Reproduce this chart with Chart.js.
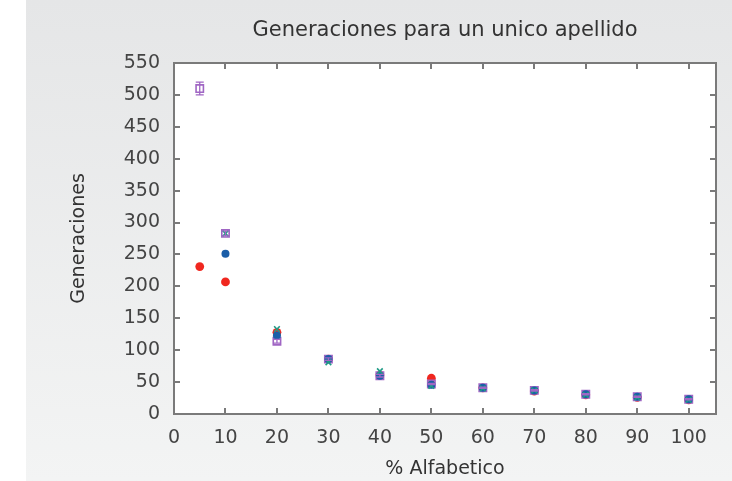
<!DOCTYPE html>
<html>
<head>
<meta charset="utf-8">
<script src="https://cdn.jsdelivr.net/npm/chart.js@4"></script>
<style>
  html, body { margin: 0; padding: 0; background: #fff; }
  #wrap { width: 732px; height: 481px; }
</style>
</head>
<body>
<div id="wrap"><canvas id="chart" width="732" height="481"></canvas></div>
<script>
// ------------------------------------------------------------
// Data
// ------------------------------------------------------------
const xPercent = [5, 10, 20, 30, 40, 50, 60, 70, 80, 90, 100];
const serieRoja = [231, 207, 128, 86, 61, 56, 41, 36, 30, 26, 22];
const serieAzul = [null, 251, 123, 86, 60, 46, 41, 37, 31, 27, 23];
const serieVerde = [null, 283, 133, 81, 67, 44, 40, 37, 30, 26, 22];
const serieMorada = [510, 283, 114, 86, 60, 47, 41, 37, 31, 27, 23];
const errorMorada = [10, 4, 3, 2, 2, 1, 1, 1, 1, 1, 1];
const xTicks = [0, 10, 20, 30, 40, 50, 60, 70, 80, 90, 100];
const yTicks = [0, 50, 100, 150, 200, 250, 300, 350, 400, 450, 500, 550];
const TITLE = 'Generaciones para un unico apellido';

const FONT = '"DejaVu Sans", Arial, sans-serif';
const FONT_SIZE = 19;
const AXIS = '#7a7a7a';

function toPoints(values) {
  return xPercent.map((x, i) => ({ x, y: values[i] })).filter(p => p.y != null);
}

// background: white strip, grey gradient panel, white plot area, title over the plot
const panelBg = {
  id: 'panelBg',
  beforeDraw(chart) {
    const { ctx, chartArea: a } = chart;
    ctx.save();
    ctx.fillStyle = '#fff';
    ctx.fillRect(0, 0, chart.width, chart.height);
    const g = ctx.createLinearGradient(0, 0, 0, chart.height);
    g.addColorStop(0, '#e5e6e7');
    g.addColorStop(1, '#f3f4f4');
    ctx.fillStyle = g;
    ctx.fillRect(26, 0, chart.width - 26, chart.height);
    ctx.fillStyle = '#fff';
    ctx.fillRect(a.left, a.top, a.right - a.left, a.bottom - a.top);

    ctx.fillStyle = '#333';
    ctx.font = `21px ${FONT}`;
    ctx.textAlign = 'center';
    ctx.textBaseline = 'middle';
    ctx.fillText(TITLE, (a.left + a.right) / 2, 31);
    ctx.restore();
  },
};

// gnuplot style frame with inward ticks on all four sides
const frameTicks = {
  id: 'frameTicks',
  afterDatasetsDraw(chart) {
    const { ctx, chartArea: a, scales } = chart;
    const len = 6;
    ctx.save();
    ctx.strokeStyle = AXIS;
    ctx.lineWidth = 2;
    ctx.beginPath();
    scales.x.ticks.forEach(t => {
      const px = Math.round(scales.x.getPixelForValue(t.value));
      ctx.moveTo(px, a.bottom); ctx.lineTo(px, a.bottom - len);
      ctx.moveTo(px, a.top); ctx.lineTo(px, a.top + len);
    });
    scales.y.ticks.forEach(t => {
      const py = Math.round(scales.y.getPixelForValue(t.value));
      ctx.moveTo(a.left, py); ctx.lineTo(a.left + len, py);
      ctx.moveTo(a.right, py); ctx.lineTo(a.right - len, py);
    });
    ctx.stroke();
    ctx.strokeRect(a.left, a.top, a.right - a.left, a.bottom - a.top);
    ctx.restore();
  },
};

// vertical error bars for the open-square series
const errorBars = {
  id: 'errorBars',
  afterDatasetsDraw(chart) {
    const { ctx, scales } = chart;
    ctx.save();
    ctx.strokeStyle = '#a066c4';
    ctx.lineWidth = 1.3;
    xPercent.forEach((x, i) => {
      const err = errorMorada[i];
      if (serieMorada[i] == null || !err) return;
      const px = scales.x.getPixelForValue(x);
      const top = scales.y.getPixelForValue(serieMorada[i] + err);
      const bot = scales.y.getPixelForValue(serieMorada[i] - err);
      ctx.beginPath();
      ctx.moveTo(px, top); ctx.lineTo(px, bot);
      ctx.moveTo(px - 4, top); ctx.lineTo(px + 4, top);
      ctx.moveTo(px - 4, bot); ctx.lineTo(px + 4, bot);
      ctx.stroke();
    });
    ctx.restore();
  },
};

new Chart(document.getElementById('chart'), {
  type: 'scatter',
  data: {
    datasets: [
      { label: 'rojo', data: toPoints(serieRoja), order: 4,
        pointStyle: 'circle', pointRadius: 4.4, backgroundColor: '#f0271f', borderColor: '#f0271f', borderWidth: 0 },
      { label: 'morado', data: toPoints(serieMorada), order: 3,
        pointStyle: 'rect', pointRadius: 5.2, backgroundColor: 'rgba(0,0,0,0)', borderColor: '#a066c4', borderWidth: 1.6 },
      { label: 'azul', data: toPoints(serieAzul), order: 2,
        pointStyle: 'circle', pointRadius: 4, backgroundColor: '#1a5ea8', borderColor: '#1a5ea8', borderWidth: 0 },
      { label: 'verde', data: toPoints(serieVerde), order: 1,
        pointStyle: 'crossRot', pointRadius: 4, backgroundColor: '#1f9b86', borderColor: '#1f9b86', borderWidth: 1.6 },
    ],
  },
  options: {
    responsive: false,
    animation: false,
    layout: { padding: { left: 62, right: 16, top: 63, bottom: 0 } },
    plugins: {
      legend: { display: false },
      tooltip: { enabled: false },
      title: { display: false },
    },
    scales: {
      x: {
        type: 'linear',
        min: 0,
        max: 105.3,
        afterBuildTicks(scale) { scale.ticks = xTicks.map(v => ({ value: v })); },
        afterFit(scale) { scale.height = 67; },
        ticks: { color: '#444', font: { family: FONT, size: FONT_SIZE }, padding: 5 },
        grid: { display: false },
        border: { display: false },
        title: { display: true, text: '% Alfabetico', color: '#333', font: { family: FONT, size: FONT_SIZE }, padding: { top: 9, bottom: 1 } },
      },
      y: {
        type: 'linear',
        min: 0,
        max: 550,
        afterBuildTicks(scale) { scale.ticks = yTicks.map(v => ({ value: v })); },
        afterFit(scale) { scale.width = 112; },
        ticks: { color: '#444', font: { family: FONT, size: FONT_SIZE }, padding: 6 },
        grid: { display: false },
        border: { display: false },
        title: { display: true, text: 'Generaciones', color: '#333', font: { family: FONT, size: FONT_SIZE }, padding: { top: 6 } },
      },
    },
  },
  plugins: [panelBg, errorBars, frameTicks],
});
</script>
</body>
</html>
